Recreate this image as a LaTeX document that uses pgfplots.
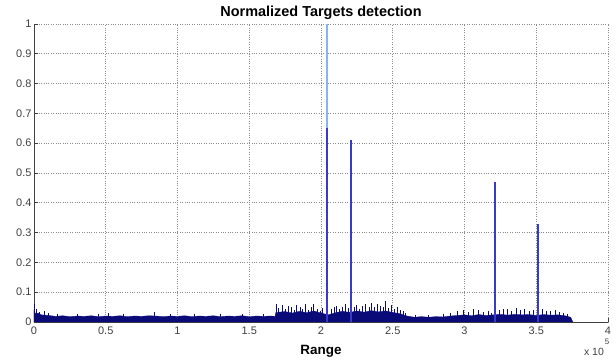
\documentclass[border=0pt]{standalone}
\usepackage{pgfplots}
\pgfplotsset{compat=1.18}
\usepackage{fontspec}
\setmainfont{Liberation Sans}
\definecolor{noise}{HTML}{0A0A78}
\definecolor{spike}{HTML}{3A3AC8}
\definecolor{lightspike}{HTML}{88B4F0}
\begin{document}
\begin{tikzpicture}[x=1bp,y=1bp]
\begin{axis}[
  at={(34bp,41bp)}, anchor=south west,
  scale only axis, width=574bp, height=298bp,
  xmin=0, xmax=4, ymin=0, ymax=1,
  axis x line=bottom, axis y line=left,
  axis line style={-, draw=black!75, line width=0.8bp},
  tick align=inside, tick style={draw=black!75, line width=0.6bp},
  major tick length=4bp,
  xtick={0,0.5,...,4}, ytick={0,0.1,...,1},
  xticklabels={0,0.5,1,1.5,2,2.5,3,3.5,4},
  yticklabels={0,0.1,0.2,0.3,0.4,0.5,0.6,0.7,0.8,0.9,1},
  grid=major, major grid style={dotted, draw=black!45, line width=0.6bp},
  tick label style={font=\fontsize{11}{13}\selectfont, text=black!75},
  yticklabel style={xshift=1bp},
  xticklabel style={yshift=-1bp},
  /pgf/number format/assume math mode=true,
  title={Normalized Targets detection},
  title style={at={(axis description cs:0.5,1)}, anchor=south, inner sep=0pt, yshift=-2bp, font=\bfseries\fontsize{14.5}{16}\selectfont},
  xlabel={Range},
  xlabel style={at={(axis description cs:0.5,0)}, anchor=north, inner sep=0pt, yshift=-23bp, font=\bfseries\fontsize{13.5}{15}\selectfont},
  clip=false,
]
% base noise floor
\addplot[fill=noise, draw=noise, line width=0.3bp] coordinates {
(0,0) (0.000,0.040) (0.010,0.028) (0.030,0.030) (0.050,0.024) (0.100,0.022)
(0.150,0.019) (0.200,0.021) (0.250,0.018) (0.300,0.020) (0.350,0.019)
(0.400,0.021) (0.450,0.018) (0.500,0.020) (0.550,0.019) (0.600,0.021)
(0.650,0.018) (0.700,0.020) (0.750,0.019) (0.800,0.021) (0.850,0.020)
(0.900,0.018) (0.950,0.020) (1.000,0.019) (1.050,0.021) (1.100,0.018)
(1.150,0.020) (1.200,0.019) (1.250,0.021) (1.300,0.018) (1.350,0.020)
(1.400,0.019) (1.450,0.021) (1.500,0.018) (1.550,0.020) (1.600,0.019)
(1.650,0.020) (1.680,0.019)
(1.685,0.032) (1.750,0.035) (1.800,0.030) (1.850,0.036) (1.900,0.031)
(1.950,0.037) (2.000,0.030) (2.050,0.024) (2.100,0.031) (2.150,0.036)
(2.200,0.032) (2.250,0.037) (2.300,0.033) (2.350,0.038) (2.400,0.034)
(2.450,0.037) (2.500,0.032) (2.550,0.028) (2.600,0.020)
(2.650,0.016) (2.700,0.018) (2.750,0.016) (2.800,0.018) (2.850,0.017)
(2.900,0.020) (2.950,0.022) (3.000,0.024) (3.050,0.021) (3.100,0.025)
(3.150,0.022) (3.200,0.024) (3.250,0.026) (3.300,0.023) (3.350,0.026)
(3.400,0.024) (3.450,0.025) (3.500,0.022) (3.550,0.025) (3.600,0.023)
(3.650,0.024) (3.700,0.021) (3.740,0.016) (3.755,0)
} \closedcycle;
% thin noise spikes
\addplot[ycomb, draw=noise, line width=0.8bp, mark=none] coordinates {
(0.003,0.062) (0.020,0.045) (0.040,0.035) (0.070,0.038) (0.100,0.030)
(0.160,0.028) (0.300,0.028) (0.450,0.027) (0.520,0.030) (0.620,0.026)
(0.840,0.032) (0.950,0.027) (1.120,0.027) (1.300,0.028) (1.450,0.026)
(1.600,0.027)
(1.690,0.060) (1.705,0.048) (1.730,0.058) (1.752,0.044) (1.770,0.055)
(1.795,0.050) (1.812,0.041) (1.830,0.057) (1.853,0.050) (1.868,0.043)
(1.890,0.060) (1.915,0.040) (1.932,0.052) (1.950,0.062) (1.972,0.045)
(1.994,0.038) (2.012,0.048) (2.070,0.042) (2.093,0.050) (2.110,0.055)
(2.128,0.044) (2.152,0.052) (2.170,0.060) (2.192,0.047) (2.232,0.051)
(2.250,0.058) (2.268,0.045) (2.291,0.055) (2.310,0.062) (2.334,0.049)
(2.350,0.065) (2.372,0.052) (2.390,0.060) (2.412,0.055) (2.433,0.049)
(2.450,0.070) (2.468,0.047) (2.490,0.058) (2.513,0.045) (2.530,0.051)
(2.550,0.040) (2.572,0.038) (2.590,0.030)
(2.660,0.022) (2.750,0.024) (2.850,0.026) (2.900,0.030) (2.950,0.036)
(2.990,0.040) (3.030,0.032) (3.060,0.042) (3.100,0.040) (3.130,0.035)
(3.170,0.038) (3.190,0.030) (3.240,0.040) (3.270,0.045) (3.300,0.042)
(3.330,0.038) (3.360,0.046) (3.390,0.040) (3.420,0.044) (3.450,0.036)
(3.480,0.040) (3.540,0.042) (3.570,0.038) (3.600,0.036) (3.630,0.040)
(3.660,0.034) (3.690,0.030) (3.720,0.028)
};
% targets
\addplot[ycomb, draw=lightspike, line width=2bp, mark=none] coordinates {(2.04,1.0)};
\addplot[ycomb, draw=spike, line width=2bp, mark=none] coordinates {
(2.04,0.65) (2.21,0.61) (3.21,0.47) (3.513,0.33)};
\node[anchor=center, font=\fontsize{10.5}{12}\selectfont, text=black!75, inner sep=0pt]
  at (axis description cs:1,0) [yshift=-30bp, xshift=-14bp] {x 10};
\node[anchor=center, font=\fontsize{8}{9}\selectfont, text=black!75, inner sep=0pt]
  at (axis description cs:1,0) [yshift=-20bp, xshift=-1bp] {5};
\end{axis}
\pgfresetboundingbox
\path (0,0) rectangle (616bp,363bp);
\end{tikzpicture}
\end{document}
